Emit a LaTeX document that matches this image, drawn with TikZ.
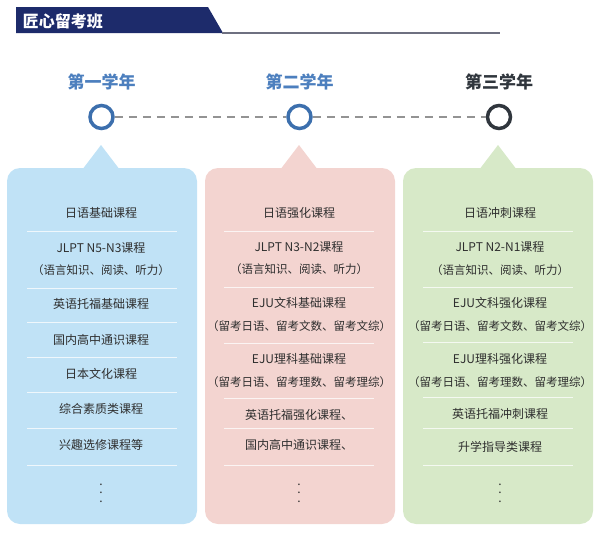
\documentclass[tikz,border=0pt]{standalone}
\usepackage{fontspec}
\setmainfont{Noto Sans CJK SC}
\usetikzlibrary{positioning}
\definecolor{navyband}{HTML}{1D2B6B}
\definecolor{headgray}{HTML}{6E7080}
\definecolor{yearblue}{HTML}{4C7FBE}
\definecolor{ringblue}{HTML}{3C6FAD}
\definecolor{ringdark}{HTML}{30363D}
\definecolor{itemtext}{HTML}{2E2E2E}
\definecolor{boxblue}{HTML}{C0E2F6}
\definecolor{boxpink}{HTML}{F3D4D0}
\definecolor{boxgreen}{HTML}{D7E9C8}
\newcommand{\moredots}{\vbox{\baselineskip8.5pt\lineskiplimit0pt\hbox{.}\hbox{.}\hbox{.}}}
\tikzset{%
  item/.style = {%
    text = itemtext,
    inner sep = 0pt,
    font = \fontsize{12}{14}\selectfont},
  subitem/.style = {%
    text = itemtext,
    inner sep = 0pt,
    font = \fontsize{11.5}{14}\selectfont},
  sepline/.style = {%
    draw = white,
    draw opacity = 0.75,
    line width = 0.8pt}}

\begin{document}
\begin{tikzpicture}[x=1pt, y=-1pt,
yearlabel/.style={inner sep=0pt, font=\fontsize{17}{20}\selectfont\bfseries},
ring/.style={circle, line width=3.5pt, minimum size=23pt, inner sep=0pt},
card/.style={rectangle, rounded corners=13pt, minimum width=190pt, minimum height=356pt, inner sep=0pt},
dashline/.style={draw=gray!85, line width=1.5pt, dash pattern=on 8pt off 6pt},
]

\useasboundingbox (0,0) rectangle (600,538);

% header
\fill[navyband] (16,7) -- (208,7) -- (223,33) -- (16,33) -- cycle;
\draw[headgray, line width=2pt] (222,32.5) -- (500,32.5);
\node[inner sep=0pt, text=white, font=\fontsize{16}{18}\selectfont\bfseries] (title) at (63,21) {匠心留考班};

% timeline
\node[yearlabel, text=yearblue]  (year1) at (101.5,82) {第一学年};
\node[yearlabel, text=yearblue]  (year2) at (299.5,82) {第二学年};
\node[yearlabel, text=ringdark]  (year3) at (499,82)   {第三学年};

\node[ring, draw=ringblue] (ring1) at (101.5,117) {};
\node[ring, draw=ringblue] (ring2) at (299.5,117) {};
\node[ring, draw=ringdark] (ring3) at (499,117)   {};

\draw[dashline] (ring1) -- (ring2);
\draw[dashline] (ring2) -- (ring3);

% cards
\node[card, fill=boxblue]  (card1) at (102,346) {};
\node[card, fill=boxpink]  (card2) at (300,346) {};
\node[card, fill=boxgreen] (card3) at (498,346) {};

\coordinate (tip1) at (101,145);
\coordinate (tip2) at (299,145);
\coordinate (tip3) at (498,145);
\fill[boxblue]  (tip1) -- ++(-19,25) -- ++(38,0) -- cycle;
\fill[boxpink]  (tip2) -- ++(-19,25) -- ++(38,0) -- cycle;
\fill[boxgreen] (tip3) -- ++(-19,25) -- ++(38,0) -- cycle;

% first year
\node[item]    (a1) at (101,213) {日语基础课程};
\node[item]    (a2) at (101,248) {JLPT N5-N3课程};
\node[subitem] (a3) at (101,270) {（语言知识、阅读、听力）};
\node[item]    (a4) at (101,304) {英语托福基础课程};
\node[item]    (a5) at (101,340) {国内高中通识课程};
\node[item]    (a6) at (101,374) {日本文化课程};
\node[item]    (a7) at (101,409) {综合素质类课程};
\node[item]    (a8) at (101,445) {兴趣选修课程等};
\node[item]    (a9) at (101,493) {\moredots};

\draw[sepline] (27,231) -- (177,231);
\draw[sepline] (27,288) -- (177,288);
\draw[sepline] (27,322) -- (177,322);
\draw[sepline] (27,357) -- (177,357);
\draw[sepline] (27,392) -- (177,392);
\draw[sepline] (27,428) -- (177,428);
\draw[sepline] (27,465) -- (177,465);

% second year
\node[item]    (b1) at (299,213) {日语强化课程};
\node[item]    (b2) at (299,247) {JLPT N3-N2课程};
\node[subitem] (b3) at (299,269) {（语言知识、阅读、听力）};
\node[item]    (b4) at (299,303) {EJU文科基础课程};
\node[subitem] (b5) at (299,326) {（留考日语、留考文数、留考文综）};
\node[item]    (b6) at (299,359) {EJU理科基础课程};
\node[subitem] (b7) at (299,382) {（留考日语、留考理数、留考理综）};
\node[item]    (b8) at (299,415) {英语托福强化课程、};
\node[item]    (b9) at (299,445) {国内高中通识课程、};
\node[item]    (b10) at (299,493) {\moredots};

\draw[sepline] (224,231) -- (374,231);
\draw[sepline] (224,287) -- (374,287);
\draw[sepline] (224,343) -- (374,343);
\draw[sepline] (224,398) -- (374,398);
\draw[sepline] (224,428) -- (374,428);
\draw[sepline] (224,465) -- (374,465);

% third year
\node[item]    (c1) at (500,213) {日语冲刺课程};
\node[item]    (c2) at (500,247) {JLPT N2-N1课程};
\node[subitem] (c3) at (500,270) {（语言知识、阅读、听力）};
\node[item]    (c4) at (500,303) {EJU文科强化课程};
\node[subitem] (c5) at (500,326) {（留考日语、留考文数、留考文综）};
\node[item]    (c6) at (500,359) {EJU理科强化课程};
\node[subitem] (c7) at (500,382) {（留考日语、留考理数、留考理综）};
\node[item]    (c8) at (500,414) {英语托福冲刺课程};
\node[item]    (c9) at (500,447) {升学指导类课程};
\node[item]    (c10) at (500,493) {\moredots};

\draw[sepline] (423,231) -- (573,231);
\draw[sepline] (423,287) -- (573,287);
\draw[sepline] (423,342) -- (573,342);
\draw[sepline] (423,397) -- (573,397);
\draw[sepline] (423,428) -- (573,428);
\draw[sepline] (423,465) -- (573,465);

\end{tikzpicture}
\end{document}
